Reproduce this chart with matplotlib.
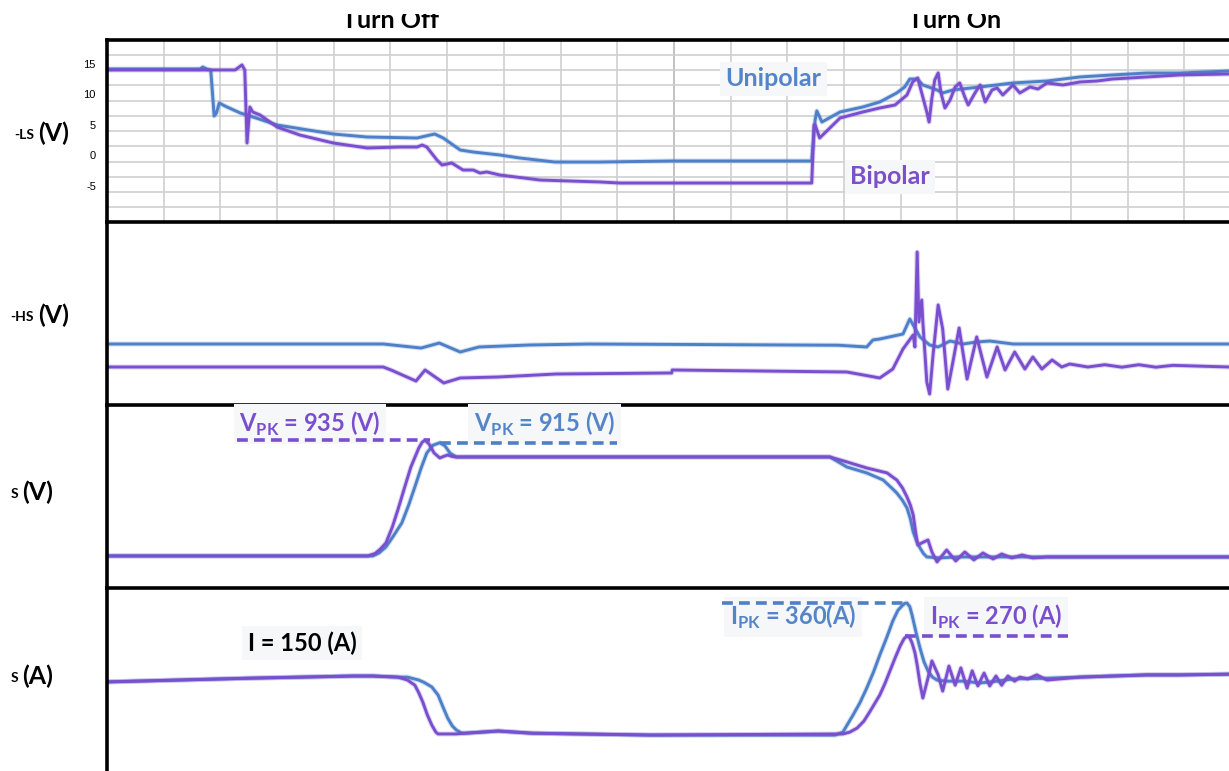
#!/usr/bin/env python3
"""
Gate-drive comparison: unipolar vs bipolar turn-off / turn-on waveforms.
"""

import matplotlib
matplotlib.use("Agg")
import matplotlib.pyplot as plt
from matplotlib.patches import Rectangle

BLUE = "#4d80c9"
PURPLE = "#7a4fcf"

# time axis in divisions (each trace is a list of (t, value) breakpoints)
# VGS low-side (V)
vgs_ls_uni_t = [0, 1.64, 1.69, 1.76, 1.83, 1.89, 1.93, 1.98, 2.08, 2.35, 2.52, 3.0, 3.99, 4.59,
                5.47, 5.70, 5.78, 5.93, 6.23, 6.46, 6.93, 7.28, 7.90, 8.69, 9.96, 10.46, 12.43,
                12.49, 12.52, 12.61, 12.93, 13.33, 13.63, 13.93, 14.07, 14.16, 14.29, 14.39,
                14.64, 14.74, 14.92, 15.40, 15.98, 16.58, 17.16, 17.74, 18.34, 18.92, 19.79]
vgs_ls_uni_v = [14.18, 14.18, 14.5, 14.18, 14.0, 6.48, 6.97, 8.61, 8.11, 6.97, 6.48, 5.0, 3.52, 3.03,
                2.87, 3.36, 3.52, 2.87, 0.90, 0.57, 0.08, -0.41, -1.07, -1.07, -0.90, -0.90, -0.90,
                5.82, 7.30, 5.49, 7.13, 7.95, 8.77, 10.25, 11.23, 12.54, 12.54, 11.56,
                10.74, 10.25, 10.74, 11.23, 11.89, 12.21, 12.87, 13.2, 13.52, 13.52, 13.85]

vgs_ls_bi_t = [0, 2.26, 2.38, 2.43, 2.47, 2.52, 2.57, 2.70, 3.0, 3.40, 3.99, 4.59, 5.17, 5.47,
               5.56, 5.64, 5.82, 5.91, 6.08, 6.28, 6.46, 6.58, 6.70, 6.93, 7.64, 8.69, 9.05,
               12.43, 12.47, 12.49, 12.57, 12.93, 13.33, 13.63, 13.90, 14.11, 14.21, 14.30,
               14.37, 14.46, 14.50, 14.55, 14.60, 14.66, 14.71, 14.78, 14.87, 14.96, 15.04,
               15.13, 15.19, 15.31, 15.40, 15.49, 15.61, 15.70, 15.80, 15.98, 16.10, 16.28,
               16.42, 16.58, 16.86, 17.16, 17.46, 17.74, 18.34, 18.92, 19.79]
vgs_ls_bi_v = [14.02, 14.02, 14.84, 14.02, 2.05, 7.95, 7.13, 6.64, 4.67, 3.36, 2.05, 1.23, 1.39, 1.39,
               1.72, 1.39, -0.74, -1.56, -1.23, -2.38, -2.38, -2.87, -2.70, -3.20, -4.02, -4.34, -4.51,
               -4.51, 5.0, 5.0, 2.87, 6.15, 7.13, 7.79, 8.28, 9.92, 12.05, 12.70,
               10.25, 7.13, 5.49, 9.43, 12.38, 13.52, 10.25, 7.79, 9.10, 11.23, 11.89,
               9.59, 8.28, 10.25, 11.56, 8.77, 10.74, 11.07, 9.92, 11.56, 10.25, 11.23,
               10.90, 11.89, 11.56, 12.05, 12.21, 12.54, 12.87, 13.20, 13.36]

# VGS high-side (V)
vgs_hs_uni_t = [0, 4.87, 5.54, 5.86, 6.23, 6.56, 7.46, 8.5, 12.9, 13.40, 13.51, 13.63, 14.04,
                14.16, 14.22, 14.34, 14.51, 14.66, 14.87, 15.10, 15.34, 15.57, 15.98, 19.79]
vgs_hs_uni_v = [0, 0, -0.66, 0.16, -1.31, -0.49, -0.16, 0, -0.2, -0.49, 0.66, 0.82, 1.64,
                4.10, 3.11, 1.15, -0.16, -0.49, 0.49, 0.0, 0.33, 0.49, 0, 0]

vgs_hs_bi_t = [0, 4.87, 5.01, 5.45, 5.61, 5.94, 6.23, 6.90, 7.92, 9.96, 9.97, 13.05, 13.63,
               13.86, 14.04, 14.22, 14.25, 14.29, 14.32, 14.37, 14.39, 14.46, 14.51, 14.57,
               14.66, 14.74, 14.83, 14.92, 15.03, 15.17, 15.34, 15.52, 15.70, 15.84, 16.01,
               16.19, 16.33, 16.49, 16.67, 16.84, 16.98, 17.3, 17.6, 17.9, 18.2, 18.5, 18.8, 19.79]
vgs_hs_bi_v = [-3.77, -3.77, -4.26, -6.07, -4.26, -6.39, -5.57, -5.41, -4.92, -4.75, -4.26, -4.59, -5.57,
               -4.10, -0.82, 1.48, -0.49, 15.08, 3.61, 7.21, 3.61, -6.23, -8.20, -1.80,
               6.39, 2.46, -7.38, -2.95, 2.62, -5.74, 1.15, -5.41, -0.49, -4.26, -1.31,
               -4.10, -2.13, -4.10, -2.62, -3.77, -3.28, -3.77, -3.4, -3.8, -3.4, -3.8, -3.5, -3.77]

# VDS (V)
vds_uni_t = [0, 4.69, 4.80, 4.92, 5.05, 5.20, 5.32, 5.43, 5.54, 5.64, 5.75, 5.87, 5.96, 6.05,
             6.16, 12.75, 13.05, 13.40, 13.69, 13.85, 13.93, 14.03, 14.11, 14.17, 14.22,
             14.28, 14.34, 14.40, 14.46, 14.69, 15.0, 19.79]
vds_uni_v = [0, 0, 25, 73, 160, 267, 410, 558, 710, 832, 895, 915, 890, 832,
             800, 800, 719, 671, 614, 545, 509, 450, 388, 300, 194,
             120, 65, 20, -8, -16, -8, -8]

vds_bi_t = [0, 4.60, 4.73, 4.82, 4.92, 5.03, 5.13, 5.25, 5.36, 5.50, 5.56, 5.61, 5.68, 5.77,
            5.87, 5.94, 6.01, 6.08, 6.16, 12.75, 13.05, 13.40, 13.76, 13.85, 13.93, 14.03,
            14.11, 14.17, 14.22, 14.26, 14.30, 14.37, 14.48, 14.55, 14.64, 14.81, 14.97,
            15.13, 15.29, 15.45, 15.63, 15.78, 15.96, 16.14, 16.33, 16.6, 19.79]
vds_bi_v = [0, 0, 20, 55, 105, 230, 372, 555, 719, 873, 920, 935, 905, 832,
            792, 805, 816, 805, 800, 800, 760, 711, 671, 640, 614, 550,
            477, 410, 331, 200, 89, 105, 129, 32, -48, 48, -40,
            32, -32, 24, -24, 16, -16, 8, -16, -8, -8]

# ID (A)
id_uni_t = [0, 2.50, 4.34, 4.69, 5.13, 5.30, 5.50, 5.60, 5.73, 5.84, 5.93, 6.01, 6.09, 6.16,
            6.25, 6.31, 6.90, 7.5, 9.59, 12.84, 12.98, 13.16, 13.28, 13.40, 13.52, 13.63,
            13.75, 13.86, 13.95, 14.02, 14.07, 14.11, 14.16, 14.20, 14.27, 14.34, 14.41,
            14.48, 14.56, 14.64, 14.81, 15.10, 15.40, 15.70, 15.98, 16.58, 17.16, 17.74,
            18.34, 18.92, 19.79]
id_uni_v = [145, 155, 161, 161, 158, 158, 150, 143, 131, 109, 75, 46, 25, 14,
            6, 5, 11, 5, 0, 0, 8, 55, 88, 128, 172, 218,
            265, 311, 340, 352, 359, 360, 350, 327, 280, 237, 200,
            175, 158, 150, 147, 147, 142, 147, 153, 155, 158, 161,
            164, 164, 166]

id_bi_t = [0, 2.50, 4.34, 4.69, 5.13, 5.30, 5.43, 5.50, 5.57, 5.65, 5.73, 5.80, 5.84, 6.16,
           6.31, 6.90, 7.5, 9.59, 12.98, 13.10, 13.23, 13.35, 13.46, 13.63, 13.72, 13.81,
           13.90, 13.99, 14.06, 14.11, 14.16, 14.20, 14.25, 14.29, 14.34, 14.39, 14.48,
           14.55, 14.66, 14.74, 14.85, 14.96, 15.06, 15.17, 15.26, 15.36, 15.47, 15.57,
           15.68, 15.78, 15.89, 16.01, 16.10, 16.24, 16.40, 16.58, 17.16, 17.74, 18.34,
           18.92, 19.79]
id_bi_v = [145, 155, 161, 161, 158, 150, 136, 115, 90, 55, 27, 8, 3, 3,
           5, 11, 5, 0, 3, 8, 19, 38, 65, 109, 140, 175,
           210, 243, 263, 270, 265, 251, 225, 191, 140, 101, 155,
           202, 164, 120, 188, 136, 183, 128, 175, 134, 169, 134,
           161, 136, 161, 147, 158, 153, 164, 150, 158, 161, 164,
           164, 166]

ls_ticks = [15, 10, 5, 0, -5]
vpk_bi, vpk_uni = 935, 915
ipk_uni, ipk_bi = 360, 270
i_load = 150

plt.rcParams["font.family"] = ["Lato", "DejaVu Sans"]
plt.rcParams["mathtext.fontset"] = "custom"
plt.rcParams["mathtext.rm"] = "Lato"
plt.rcParams["mathtext.bf"] = "Lato:bold"

fig = plt.figure(figsize=(12.29, 7.71), dpi=100)

W, H = 1229, 771
left = 107 / W
panels = [(40, 222), (222, 405), (405, 588), (588, 771)]
ylims = [(-10.9, 18.93), (-10.0, 20.0), (-259, 1220), (-98, 401)]
axes = []
for (top, bot), yl in zip(panels, ylims):
    ax = fig.add_axes([left, 1 - bot / H, 1 - left, (bot - top) / H])
    ax.set_xlim(0, 19.79)
    ax.set_ylim(*yl)
    ax.set_xticks([])
    ax.set_yticks([])
    for s in ("right", "bottom"):
        ax.spines[s].set_visible(False)
    for s in ("left", "top"):
        ax.spines[s].set_linewidth(2.6)
        ax.spines[s].set_color("black")
    axes.append(ax)

ax1, ax2, ax3, ax4 = axes

# grid only on the low-side gate panel
for t in range(1, 20):
    ax1.axvline(t, color="#d0d0d0" if t != 10 else "#b8b8b8", lw=1.2, zorder=0)
for v in [16.5 - 2.5 * k for k in range(11)]:
    ax1.axhline(v, color="#d0d0d0", lw=1.2, zorder=0)
ax1.set_yticks(ls_ticks)
ax1.set_yticklabels([str(v) for v in ls_ticks], family="Liberation Sans", fontsize=8)
ax1.tick_params(axis="y", length=0, pad=8)


def trace(ax, t, v, color):
    # soft halo under each trace, like a scope's noisy line
    ax.plot(t, v, color=color, lw=3.6, alpha=0.25, solid_joinstyle="round")
    ax.plot(t, v, color=color, lw=2.1, solid_joinstyle="round")


trace(ax1, vgs_ls_uni_t, vgs_ls_uni_v, BLUE)
trace(ax1, vgs_ls_bi_t, vgs_ls_bi_v, PURPLE)
trace(ax2, vgs_hs_uni_t, vgs_hs_uni_v, BLUE)
trace(ax2, vgs_hs_bi_t, vgs_hs_bi_v, PURPLE)
trace(ax3, vds_uni_t, vds_uni_v, BLUE)
trace(ax3, vds_bi_t, vds_bi_v, PURPLE)
trace(ax4, id_uni_t, id_uni_v, BLUE)
trace(ax4, id_bi_t, id_bi_v, PURPLE)

box = dict(facecolor="#f6f7f9", edgecolor="none", pad=4)
ax1.text(11.76, 12.54, "Unipolar", color="#5585c9", fontsize=18, fontweight="bold",
         ha="center", va="center", bbox=box)
ax1.text(13.81, -3.52, "Bipolar", color="#7b50c9", fontsize=18, fontweight="bold",
         ha="center", va="center", bbox=box)

# peak markers
dash = dict(lw=2.6, ls=(0, (3, 1.7)), zorder=5)
ax3.plot([2.29, 5.70], [vpk_bi, vpk_bi], color=PURPLE, **dash)
ax3.plot([5.87, 8.99], [vpk_uni, vpk_uni], color=BLUE, **dash)
ax3.text(3.58, 1067, r"V$_{\mathbf{PK}}$ = %d (V)" % vpk_bi, color=PURPLE, fontsize=17,
         fontweight="bold", ha="center", va="center", bbox=box)
ax3.text(7.72, 1067, r"V$_{\mathbf{PK}}$ = %d (V)" % vpk_uni, color="#5585c9", fontsize=17,
         fontweight="bold", ha="center", va="center", bbox=box)

ax4.plot([10.85, 14.13], [ipk_uni, ipk_uni], color=BLUE, **dash)
ax4.plot([14.07, 16.95], [ipk_bi, ipk_bi], color=PURPLE, **dash)
ax4.text(12.10, 322, r"I$_{\mathbf{PK}}$ = %d(A)" % ipk_uni, color="#5585c9", fontsize=17,
         fontweight="bold", ha="center", va="center", bbox=box)
ax4.text(15.68, 322, r"I$_{\mathbf{PK}}$ = %d (A)" % ipk_bi, color=PURPLE, fontsize=17,
         fontweight="bold", ha="center", va="center", bbox=box)
ax4.text(3.44, 251, "I = %d (A)" % i_load, color="black", fontsize=17,
         fontweight="bold", ha="center", va="center", bbox=box)

# panel headings, top edge trimmed off
fig.text(390 / W, 1 - 28 / H, "Turn Off", fontsize=18, fontweight="bold", ha="center", va="baseline")
fig.text(955 / W, 1 - 28 / H, "Turn On", fontsize=18, fontweight="bold", ha="center", va="baseline")
fig.patches.append(Rectangle((0, 1 - 14 / H), 1, 14 / H, transform=fig.transFigure,
                             facecolor="white", edgecolor="none", zorder=10))

side = [("-LS", "(V)", 133, 34), ("-HS", "(V)", 315, 34), ("S", "(V)", 492, 18), ("S", "(A)", 676, 18)]
for small, unit, y, xs in side:
    fig.text(xs / W, 1 - (y + 2) / H, small, fontsize=10, fontweight="bold", ha="right", va="center")
    fig.text((xs + 4) / W, 1 - y / H, unit, fontsize=18, fontweight="bold", ha="left", va="center")

fig.savefig("out.png", dpi=100)
